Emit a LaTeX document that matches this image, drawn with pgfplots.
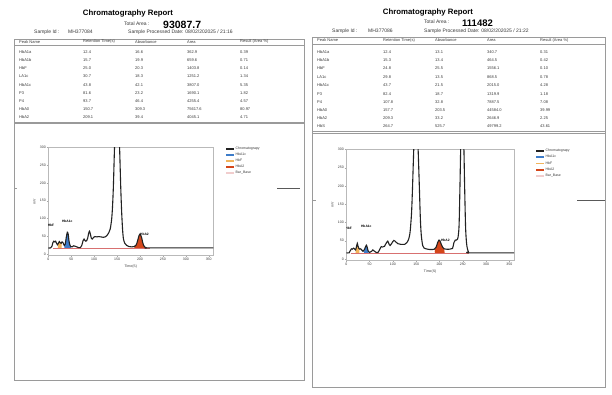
\documentclass[border=0pt]{standalone}
\usepackage{pgfplots}
\pgfplotsset{compat=1.18}
\usepackage{fontspec}
\setmainfont{Liberation Sans}
\definecolor{frame}{HTML}{9A9A9A}
\definecolor{txt}{HTML}{3A3A3A}
\definecolor{cblue}{HTML}{3D7CC9}
\definecolor{corange}{HTML}{F2B45A}
\definecolor{cred}{HTML}{D4461A}
\definecolor{cbase}{HTML}{D87070}
\definecolor{curve}{HTML}{222222}
\newcommand\tf{\fontsize{4}{4.5}\selectfont}
\newcommand\smf{\fontsize{5}{6}\selectfont}
\tikzset{peaklab/.style={font=\bfseries\fontsize{3.3}{4}\selectfont, text=black, inner sep=0pt}}
\newcommand\lrow[6]{%
  \node[anchor=west] at (19,#1) {#2};
  \node[anchor=west] at (83,#1) {#3};
  \node[anchor=west] at (135,#1) {#4};
  \node[anchor=west] at (187,#1) {#5};
  \node[anchor=west] at (240,#1) {#6};}
\newcommand\rrow[6]{%
  \node[anchor=west] at (317,#1) {#2};
  \node[anchor=west] at (383,#1) {#3};
  \node[anchor=west] at (435,#1) {#4};
  \node[anchor=west] at (487,#1) {#5};
  \node[anchor=west] at (540,#1) {#6};}
\pgfplotsset{chrom/.style={
  scale only axis, xmin=0, xmax=360, ymin=-4, ymax=300,
  xtick={0,50,...,350}, ytick={0,50,...,300},
  tick align=outside, tick pos=left, major tick length=1.5pt,
  axis line style={draw=gray!55, line width=0.4pt},
  every tick/.style={draw=gray!70, line width=0.3pt},
  ticklabel style={font=\fontsize{3.5}{4}\selectfont, text=txt, inner sep=0.8pt},
  /pgf/number format/assume math mode=true,
  xlabel={Time(S)}, ylabel={mV},
  label style={font=\fontsize{3.5}{4}\selectfont, text=txt},
  clip=true,
  legend cell align=left,
  legend style={draw=none, fill=none, font=\fontsize{3.5}{4}\selectfont,
    inner sep=0pt, row sep=0.9pt, anchor=north west, text=txt,
    nodes={inner sep=0.6pt}},
  legend image code/.code={\draw[line width=1.8pt,##1] (0pt,0pt) -- (8pt,0pt);},
}}
\begin{document}
\begin{tikzpicture}
\path[use as bounding box] (0,0) rectangle (612pt,394pt);
\fill[white] (0,0) rectangle (612pt,394pt);
\begin{scope}[x=1pt,y=-1pt,yshift=394pt,every node/.style={inner sep=0pt,text=txt,font=\tf}]
% ---------- left report ----------
\draw[frame, line width=0.6pt] (14,39) rectangle (304,380);
\draw[frame, line width=0.4pt] (14,45) -- (304,45);
\draw[frame, line width=0.7pt] (14,122) -- (304,122);
\draw[frame, line width=0.4pt] (14,123.7) -- (304,123.7);
\draw[frame, line width=0.5pt] (14,188) -- (17,188);
\draw[black!65, line width=0.6pt] (277,188) -- (300,188);
\node[font=\bfseries\fontsize{7.8}{9}\selectfont, text=black] at (128,14) {Chromatography Report};
\node[anchor=west, font=\smf] at (124,23.5) {Total Area :};
\node[anchor=west, font=\bfseries\fontsize{10.5}{12}\selectfont, text=black] at (163,24.8) {93087.7};
\node[anchor=west, font=\smf] at (34,32) {Sample Id :};
\node[anchor=west, font=\smf] at (68,32) {MH377084};
\node[anchor=west, font=\smf] at (128,32) {Sample Processed Date: 08/02/202025 / 21:16};
\lrow{41.8}{Peak Name}{Retention Time(s)}{Absorbance}{Area}{Result (Area \%)}
\lrow{52}{HbA1a}{12.4}{16.6}{362.9}{0.39}
\lrow{60}{HbA1b}{15.7}{19.9}{659.6}{0.71}
\lrow{68}{HbF}{25.0}{20.3}{1403.8}{0.14}
\lrow{76.5}{LA1c}{30.7}{18.3}{1251.2}{1.34}
\lrow{85}{HbA1c}{43.8}{42.1}{3807.0}{5.35}
\lrow{93.5}{P3}{81.6}{23.2}{1690.1}{1.82}
\lrow{101.5}{P4}{93.7}{46.4}{4255.4}{4.57}
\lrow{109.5}{HbA0}{150.7}{309.3}{75617.6}{80.97}
\lrow{117.2}{HbA2}{209.1}{39.4}{4045.1}{4.71}
% ---------- right report ----------
\draw[frame, line width=0.6pt] (312,37) rectangle (605,387);
\draw[frame, line width=0.4pt] (312,44) -- (605,44);
\draw[frame, line width=0.7pt] (312,131.5) -- (605,131.5);
\draw[frame, line width=0.4pt] (312,133.2) -- (605,133.2);
\draw[frame, line width=0.5pt] (312,200) -- (316,200);
\draw[black!65, line width=0.6pt] (577,200) -- (605,200);
\node[font=\bfseries\fontsize{7.8}{9}\selectfont, text=black] at (428,13) {Chromatography Report};
\node[anchor=west, font=\smf] at (424,22) {Total Area :};
\node[anchor=west, font=\bfseries\fontsize{9.5}{11}\selectfont, text=black] at (462,23.2) {111482};
\node[anchor=west, font=\smf] at (332,31) {Sample Id :};
\node[anchor=west, font=\smf] at (368,31) {MH377086};
\node[anchor=west, font=\smf] at (424,31) {Sample Processed Date: 08/02/202025 / 21:22};
\rrow{40.5}{Peak Name}{Retention Time(s)}{Absorbance}{Area}{Result (Area \%)}
\rrow{51.7}{HbA1a}{12.4}{13.1}{340.7}{0.31}
\rrow{60}{HbA1b}{15.3}{13.4}{464.5}{0.42}
\rrow{68.2}{HbF}{24.8}{25.5}{1556.1}{0.10}
\rrow{77}{LA1c}{29.8}{13.5}{868.5}{0.78}
\rrow{85.5}{HbA1c}{43.7}{21.5}{2015.0}{4.28}
\rrow{93.7}{P3}{82.4}{18.7}{1319.9}{1.18}
\rrow{102}{P4}{107.8}{32.8}{7887.5}{7.08}
\rrow{110}{HbA0}{157.7}{203.5}{44584.0}{39.99}
\rrow{118}{HbA2}{209.3}{33.2}{2646.9}{2.25}
\rrow{126}{HbS}{264.7}{525.7}{49799.2}{43.61}
\end{scope}
% ---------- left chromatogram ----------
\begin{axis}[chrom, at={(48.3pt,138.6pt)}, anchor=south west, width=165pt, height=108pt,
  legend style={at={(1.071,1.013)}}]
\addlegendimage{curve}
\addlegendimage{cblue}
\addlegendimage{corange}
\addlegendimage{cred}
\addlegendimage{cbase!35}
\addplot[fill=corange, draw=none, smooth, tension=0.5, forget plot] coordinates {
(21,17) (21,27) (22,30) (24,35) (26,32) (28,30) (29,30) (29,17)};
\addplot[fill=cblue, draw=none, smooth, tension=0.5, forget plot] coordinates {
(35,17) (35,24) (37,28) (39,45) (41.5,61) (43.5,55) (45,38) (47,26) (49,21) (50,17)};
\addplot[fill=cred, draw=none, smooth, tension=0.5, forget plot] coordinates {
(188,17) (188,21) (192,26) (195,38) (198,52) (200,56) (202,52) (204,44) (206,32) (208,24) (211,19) (214,17)};
\addplot[cbase, line width=0.6pt, forget plot] coordinates {(10,17) (222,17)};
\addplot[curve, line width=1.1pt, smooth, tension=0.5, forget plot] coordinates {
(0,17) (5,17) (8,22) (10,32) (12,36) (14,34) (16,36) (18,30) (20,26) (22,30) (24,35) (26,32) (28,30) (30,34) (32,32) (35,24) (37,28) (39,45) (41.5,61) (43.5,55) (45,38) (47,26) (49,21) (52,20) (55,23) (58,22) (62,20) (66,18) (70,18) (73,24) (76,38) (78,42) (80,38) (82,36) (84,38) (86,45) (88,58) (90,64) (92,55) (94,44) (96,42) (99,47) (102,49) (106,48) (110,49) (115,48) (120,47) (124,48) (128,52) (132,60) (135,70) (138,95) (140,130) (142,190) (144,280) (146,360) (148,400) (150,410) (152,400) (154,360) (156,280) (158,190) (160,120) (162,70) (164,42) (167,30) (171,24) (176,21) (182,20) (188,21) (192,26) (195,38) (198,52) (200,56) (202,52) (204,44) (206,32) (208,24) (211,19) (215,17) (220,17) (360,17)};
\node[peaklab] at (axis cs:6,82) {HbF};
\node[peaklab] at (axis cs:41.5,92) {HbA1c};
\node[peaklab, anchor=west] at (axis cs:200,55) {HbA2};
\legend{Chromatograpy, HbA1c, HbF, HbA2, Bar\_Base}
\end{axis}
% ---------- right chromatogram ----------
\begin{axis}[chrom, at={(346.3pt,133.5pt)}, anchor=south west, width=167.7pt, height=111pt,
  legend style={at={(1.125,1.01)}}]
\addlegendimage{curve}
\addlegendimage{cblue}
\addlegendimage{corange}
\addlegendimage{cred}
\addlegendimage{cbase!35}
\addplot[fill=corange, draw=none, smooth, tension=0.5, forget plot] coordinates {
(20,17) (20,25) (22,35) (23.6,43) (25,36) (27,29) (28,28) (28,17)};
\addplot[fill=cblue, draw=none, smooth, tension=0.5, forget plot] coordinates {
(38,17) (39,26) (41,33) (43,38) (45,32) (47,22) (48,17)};
\addplot[fill=cred, draw=none, smooth, tension=0.5, forget plot] coordinates {
(190,17) (190,27) (193,33) (196,45) (199,52) (201,50) (204,40) (207,32) (210,28) (211,17)};
\addplot[cbase, line width=0.6pt, forget plot] coordinates {(10,17) (264,17)};
\addplot[curve, line width=1.1pt, smooth, tension=0.5, forget plot] coordinates {
(0,17) (6,17) (9,24) (11,28) (13,27) (16,30) (18,27) (20,25) (22,35) (23.6,43) (25,36) (27,29) (29,27) (31,28) (33,25) (36,21) (39,26) (41,33) (43,38) (45,32) (47,22) (50,18) (54,21) (57,25) (60,22) (64,18) (68,18) (72,27) (75,34) (78,33) (82,35) (85,42) (89,49) (92,40) (94,37) (97,42) (102,51) (106,47) (111,42) (118,40) (125,40) (130,45) (134,55) (137,75) (140,125) (142,190) (144,270) (146,340) (149,380) (151,380) (153,340) (155,270) (157,190) (159,110) (161,65) (164,37) (167,30) (171,28) (180,26) (189,27) (193,33) (196,45) (199,52) (201,50) (204,40) (207,32) (210,28) (214,27) (222,27) (228,29) (231,45) (234,52) (239,55) (242,90) (244,200) (245.5,300) (247,360) (249,380) (251,360) (252.5,300) (254,200) (256,90) (258,45) (260,28) (262,20) (265,17) (360,17)};
\node[peaklab] at (axis cs:5,83) {HbF};
\node[peaklab] at (axis cs:43,90) {HbA1c};
\node[peaklab, anchor=west] at (axis cs:203,50) {HbA2};
\legend{Chromatograpy, HbA1c, HbF, HbA2, Bar\_Base}
\end{axis}
\end{tikzpicture}
\end{document}
